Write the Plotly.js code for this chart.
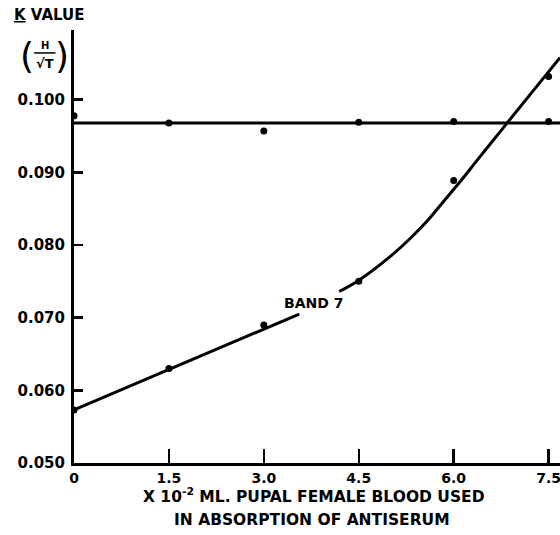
<!DOCTYPE html>
<html>
<head>
<meta charset="utf-8">
<script src="https://cdn.plot.ly/plotly-3.0.1.min.js"></script>
<style>html,body{margin:0;padding:0;background:#fff;}#chart{width:560px;height:535px;}</style>
</head>
<body>
<div id="chart"></div>
<script>
// Measured points
const bloodVolume = [0, 1.5, 3.0, 4.5, 6.0, 7.5];
const controlK = [0.0978, 0.0968, 0.0957, 0.0969, 0.0970, 0.0970];
const controlLevel = 0.0968;
const band7K = [0.0573, 0.0630, 0.0690, 0.0750, 0.0889, 0.1032];
// Hand-drawn Band 7 curve (two pieces, gap for label)
const band7CurveX1 = [0, 3.56];
const band7CurveY1 = [0.0573, 0.0705];
const band7CurveX2 = [4.19, 4.51, 4.98, 5.30, 5.57, 5.83, 6.09, 6.41, 6.78, 7.68];
const band7CurveY2 = [0.0736, 0.0752, 0.0783, 0.0808, 0.0832, 0.0859, 0.0886, 0.0921, 0.0961, 0.1058];
const xTickVals = [0, 1.5, 3.0, 4.5, 6.0, 7.5];
const xTickText = ["0", "1.5", "3.0", "4.5", "6.0", "7.5"];
const yTickVals = [0.050, 0.060, 0.070, 0.080, 0.090, 0.100, 0.1096];
const yTickText = ["0.050", "0.060", "0.070", "0.080", "0.090", "0.100", ""];
const xRange = [0, 7.68];
const yRange = [0.050, 0.1096];
const xTitle1 = "X 10<sup>-2</sup> ML. PUPAL FEMALE BLOOD USED";
const xTitle2 = "IN ABSORPTION OF ANTISERUM";

const F = "DejaVu Sans";
const lineStyle = {color: "#000", width: 3};
const traces = [
  {x: xRange, y: [controlLevel, controlLevel], mode: "lines", line: lineStyle},
  {x: band7CurveX1, y: band7CurveY1, mode: "lines", line: lineStyle},
  {x: band7CurveX2, y: band7CurveY2, mode: "lines", line: Object.assign({shape: "spline", smoothing: 1}, lineStyle)},
  {x: bloodVolume, y: controlK, mode: "markers", marker: {color: "#000", size: 7}},
  {x: bloodVolume, y: band7K, mode: "markers", marker: {color: "#000", size: 7}}
];

const layout = {
  width: 560, height: 535,
  margin: {l: 74, r: 0, t: 30, b: 72},
  showlegend: false,
  paper_bgcolor: "#fff", plot_bgcolor: "#fff",
  font: {family: F, color: "#000", size: 14},
  xaxis: {
    range: xRange, showgrid: false, zeroline: false,
    showline: true, linecolor: "#000", linewidth: 3,
    tickmode: "array", tickvals: xTickVals, ticktext: xTickText,
    ticks: "inside", ticklen: 14, tickwidth: 2.5, tickcolor: "#000",
    tickfont: {family: F, size: 14, weight: "bold"},
    ticklabeloverflow: "allow",
    ticklabelstandoff: 0
  },
  yaxis: {
    range: yRange, showgrid: false, zeroline: false,
    showline: true, linecolor: "#000", linewidth: 3,
    tickmode: "array", tickvals: yTickVals, ticktext: yTickText,
    ticks: "inside", ticklen: 9, tickwidth: 2.5, tickcolor: "#000",
    tickfont: {family: F, size: 15, weight: "bold"},
    ticklabelstandoff: 3
  },
  annotations: [
    {xref: "paper", yref: "paper", x: 0.494, y: -0.076, xanchor: "center", yanchor: "middle",
     text: xTitle1, showarrow: false, font: {family: F, size: 15.5, weight: "bold"}},
    {xref: "paper", yref: "paper", x: 0.49, y: -0.132, xanchor: "center", yanchor: "middle",
     text: xTitle2, showarrow: false, font: {family: F, size: 15.5, weight: "bold"}},
    {xref: "paper", yref: "paper", x: -0.051, y: 1.035, xanchor: "center", yanchor: "middle",
     text: "<u>K</u> VALUE", showarrow: false, font: {family: F, size: 15, weight: "bold"}},
    {xref: "paper", yref: "paper", x: -0.097, y: 0.94, xanchor: "center", yanchor: "middle",
     text: "(", showarrow: false, font: {family: F, size: 36}},
    {xref: "paper", yref: "paper", x: -0.024, y: 0.94, xanchor: "center", yanchor: "middle",
     text: ")", showarrow: false, font: {family: F, size: 36}},
    {xref: "paper", yref: "paper", x: -0.06, y: 0.965, xanchor: "center", yanchor: "middle",
     text: "H", showarrow: false, font: {family: F, size: 10, weight: "bold"}},
    {xref: "paper", yref: "paper", x: -0.06, y: 0.922, xanchor: "center", yanchor: "middle",
     text: "√T", showarrow: false, font: {family: F, size: 13, weight: "bold"}},
    {xref: "x", yref: "y", x: 3.79, y: 0.0720, xanchor: "center", yanchor: "middle",
     text: "BAND 7", showarrow: false, font: {family: F, size: 14, weight: "bold"}}
  ],
  shapes: [
    {type: "line", xref: "paper", yref: "paper", x0: -0.082, x1: -0.038, y0: 0.947, y1: 0.947,
     line: {color: "#000", width: 1.5}}
  ]
};
Plotly.newPlot("chart", traces, layout, {staticPlot: true});
</script>
</body>
</html>
